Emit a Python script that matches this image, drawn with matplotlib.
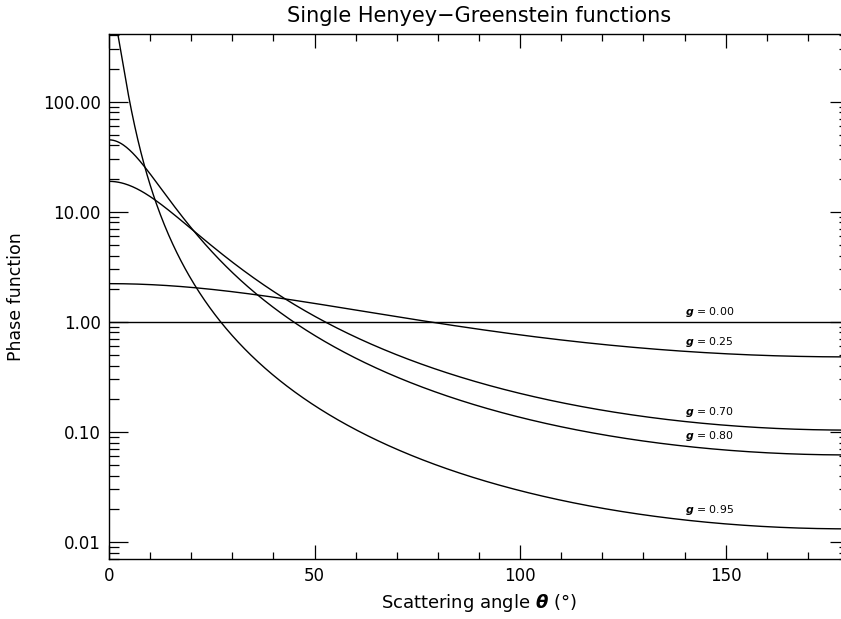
import numpy as np
import matplotlib
matplotlib.use("Agg")
import matplotlib.pyplot as plt
from matplotlib.ticker import FixedLocator, NullFormatter

# Data: asymmetry parameters of the plotted Henyey-Greenstein curves
g_values = [0.00, 0.25, 0.70, 0.80, 0.95]
g_labels = ["0.00", "0.25", "0.70", "0.80", "0.95"]
label_angle = 140.0
angles = np.linspace(0.0, 180.0, 721)  # scattering angle (deg)

y_major = [0.01, 0.1, 1.0, 10.0, 100.0]
y_major_labels = ["0.01", "0.10", "1.00", "10.00", "100.00"]
x_major = [0, 50, 100, 150]


def hg(g, theta_deg):
    mu = np.cos(np.radians(theta_deg))
    return (1 - g**2) / (1 + g**2 - 2 * g * mu) ** 1.5


plt.rcParams['font.family'] = ['DejaVu Sans']
fig = plt.figure(figsize=(8.41, 6.19), dpi=100)
ax = fig.add_axes([109 / 841, 1 - 559 / 619, (849 - 109) / 841, (559 - 34) / 619])

for g, lab in zip(g_values, g_labels):
    ax.plot(angles, hg(g, angles), color='black', lw=1.0)
    yv = hg(g, label_angle)
    ax.annotate(r"$\boldsymbol{g}$ = " + lab, (label_angle, yv), xytext=(0, 2),
                textcoords='offset points', fontsize=7.8, ha='left', va='bottom')

ax.set_yscale('log')
ax.set_xlim(0, 180)
ax.set_ylim(0.007, 412)

ax.yaxis.set_major_locator(FixedLocator(y_major))
ax.set_yticklabels(y_major_labels)
minors = [m * 10.0**e for e in range(-3, 3) for m in range(2, 10)]
ax.yaxis.set_minor_locator(FixedLocator(minors))
ax.yaxis.set_minor_formatter(NullFormatter())
ax.xaxis.set_major_locator(FixedLocator(x_major))
ax.xaxis.set_minor_locator(FixedLocator(list(range(10, 180, 10))))

ax.tick_params(axis='both', which='both', direction='in', top=True, right=True,
               color='black', width=0.9, labelsize=12, pad=6)
ax.tick_params(axis='y', which='major', length=14)
ax.tick_params(axis='y', which='minor', length=7)
ax.tick_params(axis='x', which='major', length=10)
ax.tick_params(axis='x', which='minor', length=5)
for s in ax.spines.values():
    s.set_linewidth(1.0)

ax.set_title("Single Henyey\u2212Greenstein functions", fontsize=15, pad=9)
ax.set_xlabel(r"Scattering angle $\boldsymbol{\theta}$ (°)", fontsize=13, labelpad=5)
ax.set_ylabel("Phase function", fontsize=12.5, labelpad=13)

fig.savefig("out.png", dpi=100)
